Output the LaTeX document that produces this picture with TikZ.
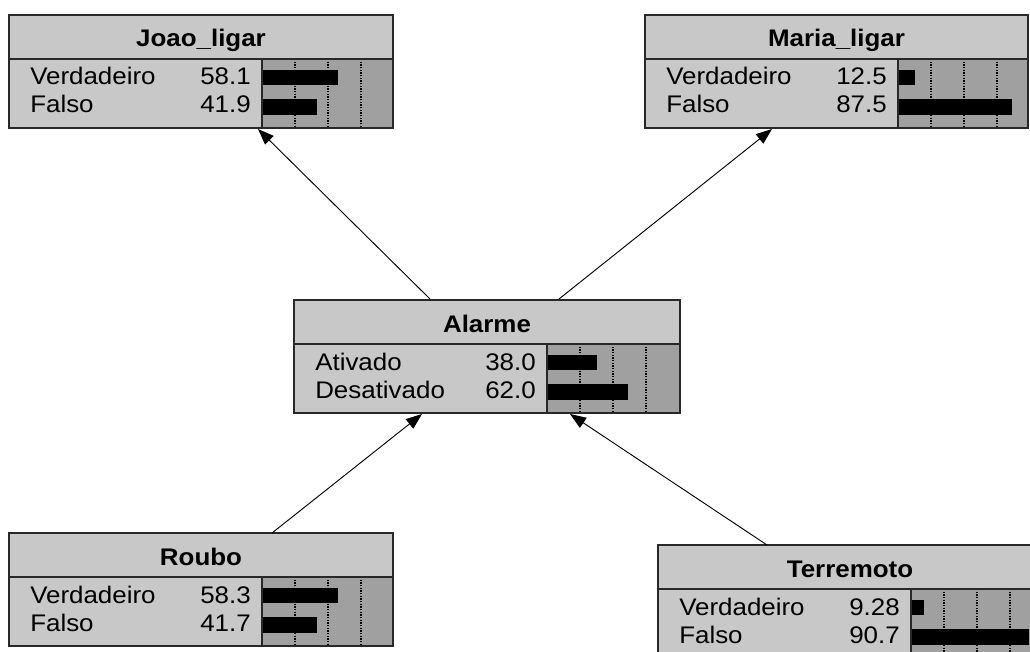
\documentclass[tikz,border=0pt]{standalone}
\usepackage{fontspec}
\setmainfont{Liberation Sans}[FakeStretch=1.08]
\usetikzlibrary{arrows.meta}
\definecolor{headgray}{RGB}{200,200,200}
\definecolor{bargray}{RGB}{160,160,160}
\definecolor{framec}{RGB}{40,40,40}
\tikzset{
  bnframe/.style={draw=framec, line width=1.4pt},
  titletext/.style={font=\fontsize{18}{20}\selectfont\bfseries, inner sep=0pt, text=black},
  statetext/.style={font=\fontsize{18}{20}\selectfont, inner sep=0pt, text=black},
  gridline/.style={dash pattern=on 1pt off 1pt, line width=1pt, black},
  probbar/.style={fill=black},
  link/.style={line width=0.7pt, black, -{Triangle[length=12pt,width=9pt]}},
}
% #1 name, #2 left, #3 top, #4 width, #5 title, #6 state1, #7 value1, #8 state2, #9 value2
\newcommand\bnbox[9]{%
  \fill[headgray] (#2,#3) rectangle (#2+#4,#3+113);
  \fill[bargray] (#2+253,#3+44) rectangle (#2+#4,#3+113);
  \foreach \k in {1,2,3} {\draw[gridline] (#2+253+33*\k,#3+44) -- (#2+253+33*\k,#3+113);}
  \fill[probbar] (#2+254,#3+55) rectangle (#2+254+1.29*#7,#3+70);
  \fill[probbar] (#2+254,#3+84) rectangle (#2+254+1.29*#9,#3+100);
  \draw[bnframe] (#2,#3) rectangle (#2+#4,#3+113);
  \draw[bnframe] (#2,#3+44) -- (#2+#4,#3+44);
  \draw[bnframe] (#2+253,#3+44) -- (#2+253,#3+113);
  \node[titletext, anchor=base] (#1) at (#2+#4/2,#3+32) {#5};
  \node[statetext, anchor=base west] (#1-s1) at (#2+21,#3+70) {#6};
  \node[statetext, anchor=base east] (#1-v1) at (#2+242,#3+70) {#7};
  \node[statetext, anchor=base west] (#1-s2) at (#2+21,#3+98) {#8};
  \node[statetext, anchor=base east] (#1-v2) at (#2+242,#3+98) {#9};
}
\begin{document}
\begin{tikzpicture}[x=0.75pt, y=-0.75pt]
  \useasboundingbox (0,0) rectangle (1030,652);
  \clip (0,0) rectangle (1030,652);
  \fill[white] (0,0) rectangle (1030,652);

  \bnbox{joao}{9}{15}{384}{Joao\_ligar}{Verdadeiro}{58.1}{Falso}{41.9}
  \bnbox{maria}{645}{15}{383}{Maria\_ligar}{Verdadeiro}{12.5}{Falso}{87.5}
  \bnbox{alarme}{294}{300}{386}{Alarme}{Ativado}{38.0}{Desativado}{62.0}
  \bnbox{roubo}{9}{533}{384}{Roubo}{Verdadeiro}{58.3}{Falso}{41.7}
  \bnbox{terremoto}{658}{545}{384}{Terremoto}{Verdadeiro}{9.28}{Falso}{90.7}

  % connector end points on the box borders
  \coordinate (alarme-tl) at (430,299);
  \coordinate (alarme-tr) at (559,299);
  \coordinate (alarme-bl) at (422,414);
  \coordinate (alarme-br) at (570,414);
  \coordinate (joao-b) at (258,129);
  \coordinate (maria-b) at (772,129);
  \coordinate (roubo-t) at (272,533);
  \coordinate (terremoto-t) at (767,545);

  \draw[link] (alarme-tl) -- (joao-b);
  \draw[link] (alarme-tr) -- (maria-b);
  \draw[link] (roubo-t) -- (alarme-bl);
  \draw[link] (terremoto-t) -- (alarme-br);
\end{tikzpicture}
\end{document}
